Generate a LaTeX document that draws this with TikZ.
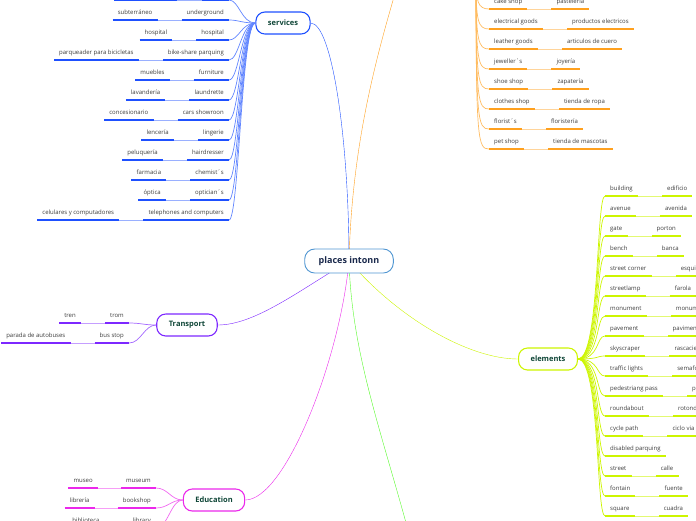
\documentclass[tikz,border=0pt]{standalone}
\usepackage{fontspec}
\setmainfont{Open Sans}
\usepackage{tikz}
\usetikzlibrary{positioning,backgrounds}
\definecolor{svblue}{RGB}{30,80,255}
\definecolor{shorange}{RGB}{255,160,30}
\definecolor{ellime}{RGB}{205,245,0}
\definecolor{grgreen}{RGB}{85,250,40}
\definecolor{edmag}{RGB}{235,40,235}
\definecolor{trpurple}{RGB}{125,40,255}
\definecolor{centerblue}{RGB}{80,150,210}
\definecolor{centertext}{RGB}{25,40,75}
\definecolor{topictext}{RGB}{15,70,55}
\definecolor{leaftext}{RGB}{60,60,60}
\tikzset{
  topic/.style={draw, line width=1.1pt, rounded corners=9pt, fill=white, minimum height=22pt,
    inner xsep=12pt, font=\bfseries\fontsize{7.5}{9}\selectfont, text=topictext},
  leaf/.style={font=\fontsize{6}{7}\selectfont, text=leaftext, inner xsep=5pt, inner ysep=1.5pt,
    text height=5pt, text depth=4pt},
  ul/.style={line width=1.5pt},
  lk/.style={line width=0.7pt},
}

\begin{document}
\begin{tikzpicture}[x=1pt,y=-1pt]
\useasboundingbox (0,0) rectangle (696,520);

\node[topic, draw=centerblue, line width=0.9pt, minimum height=24pt, rounded corners=10pt,
  inner xsep=14pt, text=centertext, font=\bfseries\fontsize{9}{11}\selectfont] (c) at (349,261) {places intonn};
\node[topic, draw=svblue] (sv) at (283,23) {services};
\node[topic, draw=trpurple] (tr) at (187,325) {Transport};
\node[topic, draw=edmag] (ed) at (214,500) {Education};
\node[topic, draw=ellime] (el) at (548,359) {elements};
\coordinate (shp) at (476,-20);
\coordinate (shpin) at (402,-30);
\coordinate (grn) at (416,560);

% main branches
\begin{scope}[on background layer, line width=1.5pt]
\draw[svblue] (c.center) .. controls (349,140) and (332,23) .. (sv.east);
\draw[shorange] (c.center) .. controls (352,140) and (378,50) .. (shpin);
\draw[ellime] (c.center) .. controls (400,320) and (470,359) .. (el.west);
\draw[grgreen] (c.center) .. controls (352,360) and (385,440) .. (grn);
\draw[edmag] (c.center) .. controls (340,360) and (285,500) .. (ed.east);
\draw[trpurple] (c.center) .. controls (300,290) and (255,325) .. (tr.east);
\end{scope}

% services
\node[leaf, anchor=south east, minimum width=27pt] (se0) at (229,0) {};
\node[leaf, minimum width=62pt, left=25pt of se0] (ss0) {};
\draw[ul, svblue] (se0.south west) -- (se0.south east);
\draw[ul, svblue] (ss0.south west) -- (ss0.south east);
\draw[lk, svblue!45] (ss0.south east) -- (se0.south west);
\draw[lk, svblue!70] (sv.west) .. controls +(-14,0) and +(10,0) .. (se0.south east);
\foreach \en/\es [count=\i] in {underground/subterráneo, hospital/hospital,
  bike-share parquing/parqueader para bicicletas, furniture/muebles, laundrette/lavandería,
  cars showroon/concesionario, lingerie/lencería, hairdresser/peluquería,
  chemist´s/farmacia, optician´s/óptica, telephones and computers/celulares y computadores}{
  \node[leaf, anchor=south east] (se\i) at (229,\i*20) {\en};
  \node[leaf, left=24pt of se\i] (ss\i) {\es};
  \draw[ul, svblue] (se\i.south west) -- (se\i.south east);
  \draw[ul, svblue] (ss\i.south west) -- (ss\i.south east);
  \draw[lk, svblue!45] (ss\i.south east) -- (se\i.south west);
  \draw[lk, svblue!70] (sv.west) .. controls +(-14,0) and +(10,0) .. (se\i.south east);
}

% shops
\foreach \en/\es [count=\i] in {cake shop/pastelería, electrical goods/productos electricos,
  leather goods/articulos de cuero, jeweller´s/joyería, shoe shop/zapatería,
  clothes shop/tienda de ropa, florist´s/floristería, pet shop/tienda de mascotas}{
  \node[leaf, anchor=south west] (oe\i) at (489,\i*20-11) {\en};
  \node[leaf, right=24pt of oe\i] (os\i) {\es};
  \draw[ul, shorange] (oe\i.south west) -- (oe\i.south east);
  \draw[ul, shorange] (os\i.south west) -- (os\i.south east);
  \draw[lk, shorange!45] (oe\i.south east) -- (os\i.south west);
  \draw[lk, shorange!70] (shp) .. controls (476,\i*20-19) and (478,\i*20-11) .. (oe\i.south west);
}

% elements
\foreach \en/\es/\y in {building/edificio/196, avenue/avenida/216, gate/porton/236,
  bench/banca/256, street corner/esquina/276, streetlamp/farola/296, monument/monumento/316,
  pavement/pavimento/336, skyscraper/rascacielos/356, traffic lights/semaforo/376,
  pedestriang pass/paso peatonal/396, roundabout/rotonda/416, cycle path/ciclo via/436,
  street/calle/476, fontain/fuente/496, square/cuadra/516}{
  \node[leaf, anchor=south west] (ee\y) at (605,\y) {\en};
  \node[leaf, right=24pt of ee\y] (es\y) {\es};
  \draw[ul, ellime] (ee\y.south west) -- (ee\y.south east);
  \draw[ul, ellime] (es\y.south west) -- (es\y.south east);
  \draw[lk, ellime!55] (ee\y.south east) -- (es\y.south west);
  \draw[lk, ellime] (el.east) .. controls (600,359) and (596,\y) .. (ee\y.south west);
}
\node[leaf, anchor=south west] (ee456) at (605,456) {disabled parquing};
\draw[ul, ellime] (ee456.south west) -- (ee456.south east);
\draw[lk, ellime] (el.east) .. controls (600,359) and (596,456) .. (ee456.south west);

% transport
\foreach \en/\es/\y in {trom/tren/323, bus stop/parada de autobuses/343}{
  \node[leaf, anchor=south east] (te\y) at (129,\y) {\en};
  \node[leaf, left=24pt of te\y] (ts\y) {\es};
  \draw[ul, trpurple] (te\y.south west) -- (te\y.south east);
  \draw[ul, trpurple] (ts\y.south west) -- (ts\y.south east);
  \draw[lk, trpurple!45] (ts\y.south east) -- (te\y.south west);
  \draw[lk, trpurple!70] (tr.west) .. controls +(-12,0) and +(12,0) .. (te\y.south east);
}

% education
\foreach \en/\es/\y in {museum/museo/488, bookshop/librería/508, library/biblioteca/528}{
  \node[leaf, anchor=south east] (de\y) at (156,\y) {\en};
  \node[leaf, left=23pt of de\y] (ds\y) {\es};
  \draw[ul, edmag] (de\y.south west) -- (de\y.south east);
  \draw[ul, edmag] (ds\y.south west) -- (ds\y.south east);
  \draw[lk, edmag!45] (ds\y.south east) -- (de\y.south west);
  \draw[lk, edmag!70] (ed.west) .. controls +(-12,0) and +(12,0) .. (de\y.south east);
}
\end{tikzpicture}
\end{document}
